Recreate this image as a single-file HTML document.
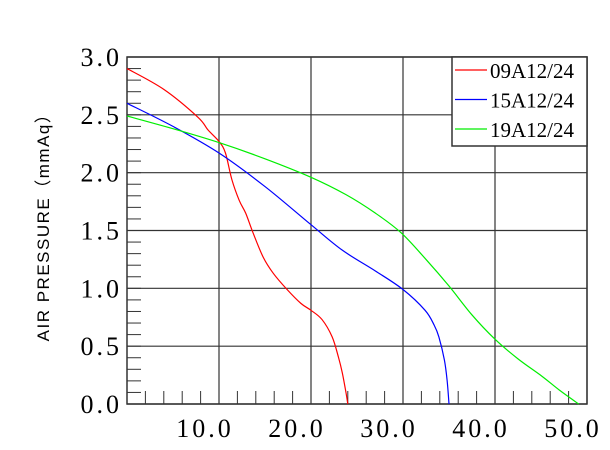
<!DOCTYPE html>
<html><head><meta charset="utf-8"><style>
html,body{margin:0;padding:0;background:#fff;}
svg{display:block;}
</style></head><body>
<svg id="chart" width="610" height="450" xmlns="http://www.w3.org/2000/svg">
<g id="grid"></g>
<g id="ticks"></g>
<g id="labels" font-family="'Liberation Serif', serif" font-size="26" fill="#000"></g>
<g id="series"></g>
<text x="0" y="0" transform="translate(49,223) rotate(-90)" text-anchor="middle" font-family="'Liberation Sans','Noto Sans CJK SC',sans-serif" font-size="17" letter-spacing="1.5">AIR PRESSURE（mmAq）</text>
<text x="450" y="469" text-anchor="middle" font-family="'Liberation Serif',serif" font-size="24">(CFM)</text>
<g id="legend"></g>
</svg>
<script>
const xTicks=[10,20,30,40,50];
const xTickLabels=["10.0","20.0","30.0","40.0","50.0"];
const yTicks=[0,0.5,1,1.5,2,2.5,3];
const yTickLabels=["0.0","0.5","1.0","1.5","2.0","2.5","3.0"];
const seriesNames=["09A12/24","15A12/24","19A12/24"];
const seriesColors=["#ff0000","#0000ff","#00ee00"];
const red=[[0,2.9],[4,2.72],[7.7,2.48],[8.8,2.37],[10,2.27],[10.7,2.17],[11.4,1.94],[12.2,1.76],[12.9,1.65],[13.7,1.48],[14.8,1.27],[15.9,1.13],[17.4,0.99],[18.9,0.87],[20,0.81],[21.2,0.73],[22.3,0.58],[23,0.4],[23.4,0.27],[23.8,0.1],[24,0]];
const blue=[[0,2.6],[5,2.4],[10,2.17],[15,1.88],[20,1.55],[23.4,1.33],[27,1.15],[30,0.99],[32.4,0.81],[33.4,0.68],[33.9,0.58],[34.5,0.38],[34.8,0.2],[35,0]];
const green=[[0,2.49],[5,2.38],[10,2.26],[15,2.12],[20,1.96],[23.8,1.81],[27,1.65],[29.8,1.48],[32.5,1.25],[35,1.02],[37.5,0.77],[40,0.56],[42.5,0.39],[45.1,0.24],[47,0.12],[49.1,0]];

const NS="http://www.w3.org/2000/svg";
const L=127,R=587,T=57,B=404;
const xs=v=>L+(v/50)*(R-L);
const ys=v=>B-(v/3)*(B-T);
function mk(tag,attrs,parent){const e=document.createElementNS(NS,tag);for(const k in attrs)e.setAttribute(k,attrs[k]);parent.appendChild(e);return e;}
const grid=document.getElementById('grid');
const ticks=document.getElementById('ticks');
const labels=document.getElementById('labels');
xTicks.forEach(v=>{const l=mk('line',{x1:xs(v),x2:xs(v),y1:T,y2:B,stroke:'#333','stroke-width':1.2},grid);

});
yTicks.forEach(v=>{const l=mk('line',{x1:L,x2:R,y1:ys(v),y2:ys(v),stroke:'#333','stroke-width':1.2},grid);

});
const frame=mk('rect',{x:L,y:T,width:R-L,height:B-T,fill:'none',stroke:'#333','stroke-width':1.5},grid);


for(let i=1;i<25;i++){const v=i*2;const l=mk('line',{x1:xs(v),x2:xs(v),y1:B,y2:B-13,stroke:'#333','stroke-width':1},ticks);

}
for(let i=1;i<30;i++){const v=i*0.1;const l=mk('line',{x1:L,x2:L+14,y1:ys(v),y2:ys(v),stroke:'#333','stroke-width':1},ticks);

}
xTicks.forEach((v,i)=>{const t=mk('text',{x:xs(v)-14,y:437,'text-anchor':'middle','letter-spacing':'3'},labels);t.textContent=xTickLabels[i];

});
yTicks.forEach((v,i)=>{const t=mk('text',{x:122,y:ys(v)+9,'text-anchor':'end','letter-spacing':'3'},labels);t.textContent=yTickLabels[i];

});
const series=document.getElementById('series');
[red,blue,green].forEach((d,i)=>{
 let p='M'+xs(d[0][0])+','+ys(d[0][1]);
 for(let k=0;k<d.length-1;k++){const p0=d[Math.max(k-1,0)],p1=d[k],p2=d[k+1],p3=d[Math.min(k+2,d.length-1)];
  const c1x=xs(p1[0])+(xs(p2[0])-xs(p0[0]))/6,c1y=ys(p1[1])+(ys(p2[1])-ys(p0[1]))/6;
  const c2x=xs(p2[0])-(xs(p3[0])-xs(p1[0]))/6,c2y=ys(p2[1])-(ys(p3[1])-ys(p1[1]))/6;
  p+=' C'+c1x+','+c1y+' '+c2x+','+c2y+' '+xs(p2[0])+','+ys(p2[1]);}
 const path=mk('path',{d:p,fill:'none',stroke:seriesColors[i],'stroke-width':1.2},series);
 
 
});
const lg=document.getElementById('legend');
const box=mk('rect',{x:452,y:57,width:135,height:89,fill:'#fff',stroke:'#333','stroke-width':1.5},lg);


seriesNames.forEach((n,i)=>{const y=70+i*29.5;
 const ln=mk('line',{x1:455,x2:487,y1:y,y2:y,stroke:seriesColors[i],'stroke-width':1.2},lg);
 
 
 const t=mk('text',{x:490,y:y+8,'font-family':"'Liberation Serif',serif",'font-size':'21'},lg);t.textContent=n;
 
 });
</script>
</body></html>
